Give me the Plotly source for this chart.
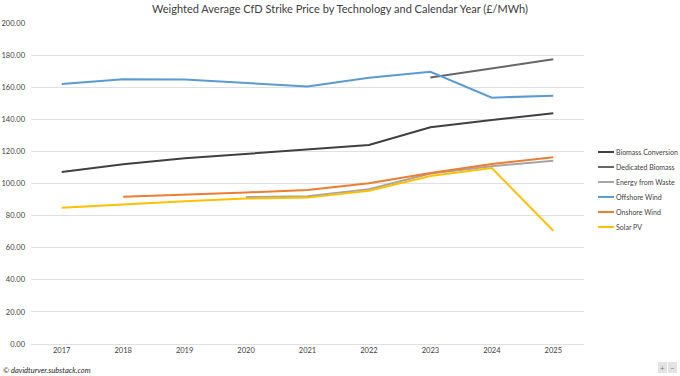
import plotly.graph_objects as go

years = ["2017", "2018", "2019", "2020", "2021", "2022", "2023", "2024", "2025"]

biomass_conversion = [107.2, 112.0, 115.7, 118.4, 120.9, 124.0, 135.0, 139.6, 143.7]
dedicated_biomass = [None, None, None, None, None, None, 166.0, 171.8, 177.4]
energy_from_waste = [None, None, None, 91.6, 92.0, 96.4, 106.2, 110.8, 114.2]
offshore_wind = [162.0, 165.0, 164.8, 162.5, 160.4, 165.9, 169.6, 153.5, 154.7]
onshore_wind = [None, 91.8, 93.0, 94.4, 96.0, 100.1, 106.6, 112.1, 116.3]
solar_pv = [84.9, 87.0, 89.0, 90.6, 91.2, 95.5, 104.7, 109.6, 70.6]

series_names = ["Biomass Conversion", "Dedicated Biomass", "Energy from Waste",
                "Offshore Wind", "Onshore Wind", "Solar PV"]
series_values = [biomass_conversion, dedicated_biomass, energy_from_waste,
                 offshore_wind, onshore_wind, solar_pv]
series_colors = ["#404040", "#666666", "#A5A5A5", "#5B9BD5", "#ED7D31", "#FFC000"]

y_ticks = [0, 20, 40, 60, 80, 100, 120, 140, 160, 180, 200]

W, H = 680, 376
ML, MR, MT, MB = 31, 96, 23, 32
PW, PH = W - ML - MR, H - MT - MB


def px_x(px):
    return (px - ML) / PW


def px_y(py):
    return (H - MB - py) / PH


fig = go.Figure()
for name, vals, color in zip(series_names, series_values, series_colors):
    fig.add_trace(go.Scatter(
        x=years, y=vals, name=name, mode="lines",
        line=dict(color=color, width=2),
        connectgaps=False, showlegend=False,
    ))

shapes = []
annotations = []
for i, (name, color) in enumerate(zip(series_names, series_colors)):
    yy = px_y(152 + 15 * i)
    shapes.append(dict(type="line", xref="paper", yref="paper",
                       x0=px_x(598), x1=px_x(614), y0=yy, y1=yy,
                       line=dict(color=color, width=2)))
    annotations.append(dict(text=name, xref="paper", yref="paper",
                            x=px_x(614), y=yy, xanchor="left", yanchor="middle",
                            showarrow=False,
                            font=dict(size=7, color="#404040")))

# small zoom buttons at bottom right
for x0, glyph in [(658, "+"), (668, "−")]:
    shapes.append(dict(type="rect", xref="paper", yref="paper",
                       x0=px_x(x0), x1=px_x(x0 + 9), y0=px_y(373), y1=px_y(362),
                       fillcolor="#E3E3E3", line=dict(width=0)))
    annotations.append(dict(text=glyph, xref="paper", yref="paper",
                            x=px_x(x0 + 4.5), y=px_y(367.5), xanchor="center",
                            yanchor="middle", showarrow=False,
                            font=dict(size=8, color="#7F7F7F")))

annotations.append(dict(text="<i>© davidturver.substack.com</i>", xref="paper", yref="paper",
                        x=px_x(1), y=px_y(370), xanchor="left", yanchor="middle",
                        showarrow=False, font=dict(size=7.5, color="#262626")))

fig.update_layout(
    width=W, height=H,
    margin=dict(l=ML, r=MR, t=MT, b=MB, autoexpand=False),
    paper_bgcolor="white", plot_bgcolor="white",
    font=dict(family="Lato, Open Sans, sans-serif", color="#404040", size=8),
    title=dict(
        text="Weighted Average CfD Strike Price by Technology and Calendar Year (£/MWh)",
        x=0.5, xanchor="center", xref="container", y=1 - 9 / H, yanchor="middle",
        font=dict(size=11, color="#404040", family="Lato, Open Sans, sans-serif"),
    ),
    showlegend=False,
    hovermode=False,
    xaxis=dict(
        type="category", showgrid=False, showline=False, zeroline=False,
        ticks="", tickfont=dict(size=7.5, color="#404040"),
        range=[-0.5, 8.5], automargin=False,
    ),
    yaxis=dict(
        range=[0, 200], tickvals=y_ticks,
        ticktext=[f"{v:.2f}" for v in y_ticks],
        showgrid=True, gridcolor="#E0E0E0", gridwidth=1,
        zeroline=True, zerolinecolor="#E0E0E0", zerolinewidth=1,
        showline=False, ticks="", tickfont=dict(size=7.5, color="#404040"),
        ticklabelstandoff=5, automargin=False,
    ),
    shapes=shapes,
    annotations=annotations,
)

fig.write_html("out.html", config={"displayModeBar": False},
               post_script="document.body.style.margin='0';document.body.style.padding='0';")
